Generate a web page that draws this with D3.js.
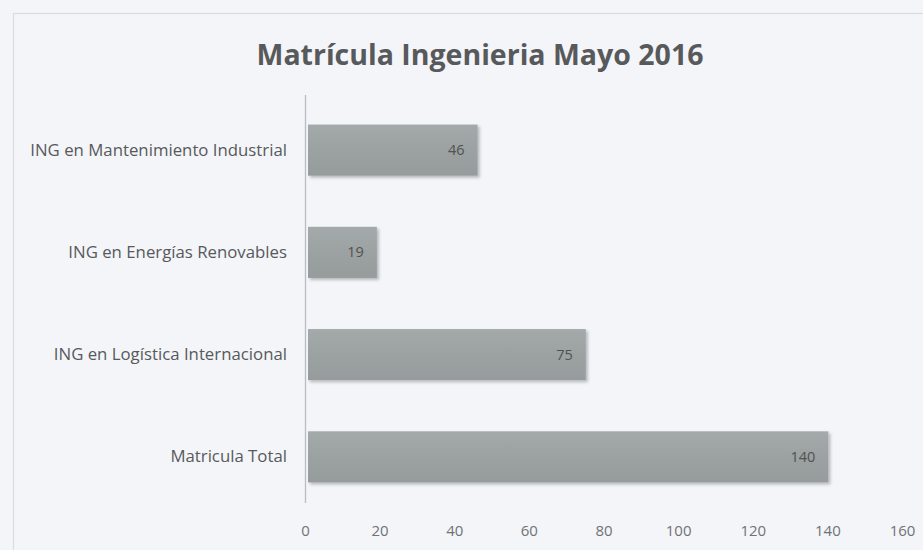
<!DOCTYPE html>
<html>
<head>
<meta charset="utf-8">
<script src="https://cdn.jsdelivr.net/npm/d3@7/dist/d3.min.js"></script>
<style>
  html, body { margin: 0; padding: 0; background: #f3f5f9; }
  svg { display: block; }
</style>
</head>
<body>
<script>
// Enrollment by engineering program, May 2016
const categories = [
  "ING en Mantenimiento Industrial",
  "ING en Energías Renovables",
  "ING en Logística Internacional",
  "Matricula Total"
];
const values = [46, 19, 75, 140];
const tickValues = [0, 20, 40, 60, 80, 100, 120, 140, 160];
const title = "Matrícula Ingenieria Mayo 2016";

const W = 923, H = 550;
const plot = { left: 305, right: 902, top: 99, bottom: 508 };

const svg = d3.select("body").append("svg")
  .attr("width", W).attr("height", H);

const defs = svg.append("defs");
const grad = defs.append("linearGradient")
  .attr("id", "barFill").attr("x1", 0).attr("y1", 0).attr("x2", 0).attr("y2", 1);
grad.append("stop").attr("offset", "0%").attr("stop-color", "#a4a9a9");
grad.append("stop").attr("offset", "50%").attr("stop-color", "#9ca1a1");
grad.append("stop").attr("offset", "100%").attr("stop-color", "#969b9b");

const shadow = defs.append("filter").attr("id", "barShadow")
  .attr("x", "-5%").attr("y", "-20%").attr("width", "115%").attr("height", "150%");
shadow.append("feDropShadow")
  .attr("dx", 2).attr("dy", 2).attr("stdDeviation", 1.6)
  .attr("flood-color", "#000").attr("flood-opacity", 0.25);

// chart frame
svg.append("rect")
  .attr("x", 13.5).attr("y", 13.5)
  .attr("width", W).attr("height", H)
  .attr("fill", "none").attr("stroke", "#d9dce2").attr("stroke-width", 1.2);

const x = d3.scaleLinear().domain([0, 160]).range([plot.left, plot.right]);
const y = d3.scaleBand().domain(categories)
  .range([plot.top, plot.bottom]).paddingInner(0.5).paddingOuter(0.25);

// title
svg.append("text")
  .attr("x", 480).attr("y", 65)
  .attr("text-anchor", "middle")
  .attr("font-family", "'Open Sans', sans-serif")
  .attr("font-weight", 700)
  .attr("font-size", 28.5)
  .attr("fill", "#58595b")
  .text(title);

// bars
svg.append("g").selectAll("rect")
  .data(values)
  .join("rect")
  .attr("x", x(0) + 3)
  .attr("y", (d, i) => y(categories[i]))
  .attr("width", d => x(d) - x(0) - 2)
  .attr("height", y.bandwidth())
  .attr("fill", "url(#barFill)")
  .attr("filter", "url(#barShadow)");

// value labels inside the bar ends
svg.append("g").selectAll("text")
  .data(values)
  .join("text")
  .attr("x", d => x(d) - 12)
  .attr("y", (d, i) => y(categories[i]) + y.bandwidth() / 2)
  .attr("dy", "0.35em")
  .attr("text-anchor", "end")
  .attr("font-family", "'Open Sans', sans-serif")
  .attr("font-size", 14.5)
  .attr("fill", "#505253")
  .text(d => d);

// category axis
const yAxis = svg.append("g")
  .attr("transform", `translate(${plot.left},0)`)
  .call(d3.axisLeft(y).tickSize(0).tickPadding(18));
yAxis.select(".domain")
  .attr("d", `M0.5,95V503`)
  .attr("stroke", "#b9bcc0").attr("stroke-width", 1.3);
yAxis.selectAll("text")
  .attr("font-family", "'Open Sans', sans-serif")
  .attr("font-size", 16.8)
  .attr("fill", "#58595b");

// value axis labels
const xAxis = svg.append("g")
  .attr("transform", `translate(0,${plot.bottom})`)
  .call(d3.axisBottom(x).tickValues(tickValues).tickSize(0).tickPadding(17));
xAxis.select(".domain").remove();
xAxis.selectAll("text")
  .attr("font-family", "'Open Sans', sans-serif")
  .attr("font-size", 15)
  .attr("fill", "#707274");
</script>
</body>
</html>
